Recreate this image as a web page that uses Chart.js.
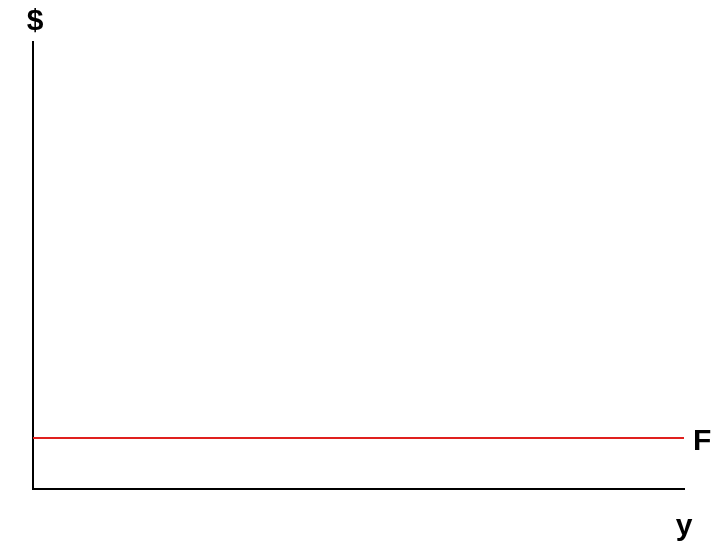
<!DOCTYPE html>
<html>
<head>
<meta charset="utf-8">
<script src="https://cdn.jsdelivr.net/npm/chart.js@4"></script>
<style>
  html, body { margin: 0; padding: 0; background: #fff; }
  #wrap { width: 722px; height: 552px; }
</style>
</head>
<body>
<div id="wrap"><canvas id="chart"></canvas></div>
<script>
// quantity on x, dollars on y (no tick values shown, arbitrary 0-10 scale)
var xRange = [0, 10];
var yRange = [0, 10];
var fixedCostX = [0, 10];
var fixedCostY = [1.14, 1.14];
var lineLabel = "F";
var yAxisLabel = "$";
var xAxisLabel = "y";

var ctx = document.getElementById("chart").getContext("2d");

// draws the axis names and the line label next to the scales
var labelPlugin = {
  id: "labels",
  afterDraw: function (chart) {
    var c = chart.ctx;
    var xs = chart.scales.x;
    var ys = chart.scales.y;
    c.save();
    c.fillStyle = "#000";
    c.font = "bold 30px 'Liberation Sans', Arial, sans-serif";
    c.textAlign = "center";
    c.textBaseline = "alphabetic";
    c.fillText(yAxisLabel, xs.left + 2, ys.top - 12);
    c.fillText(xAxisLabel, xs.right, ys.bottom + 46);
    c.textAlign = "left";
    c.textBaseline = "middle";
    var yF = ys.getPixelForValue(fixedCostY[fixedCostY.length - 1]);
    c.fillText(lineLabel, xs.right + 9, yF + 4);
    c.restore();
  }
};

new Chart(ctx, {
  type: "line",
  data: {
    datasets: [
      {
        label: lineLabel,
        data: fixedCostX.map(function (x, i) { return { x: x, y: fixedCostY[i] }; }),
        borderColor: "#e0201e",
        borderWidth: 2,
        pointRadius: 0,
        fill: false,
      },
    ],
  },
  options: {
    responsive: true,
    maintainAspectRatio: false,
    animation: false,
    layout: { padding: { left: 33, top: 42, right: 38, bottom: 63 } },
    plugins: { legend: { display: false }, tooltip: { enabled: false } },
    scales: {
      x: {
        type: "linear",
        min: xRange[0],
        max: xRange[1],
        grid: { display: false, drawTicks: false },
        border: { display: true, color: "#000", width: 2 },
        ticks: { display: false },
      },
      y: {
        min: yRange[0],
        max: yRange[1],
        grid: { display: false, drawTicks: false },
        border: { display: true, color: "#000", width: 2 },
        ticks: { display: false },
      },
    },
  },
  plugins: [labelPlugin],
});
</script>
</body>
</html>
